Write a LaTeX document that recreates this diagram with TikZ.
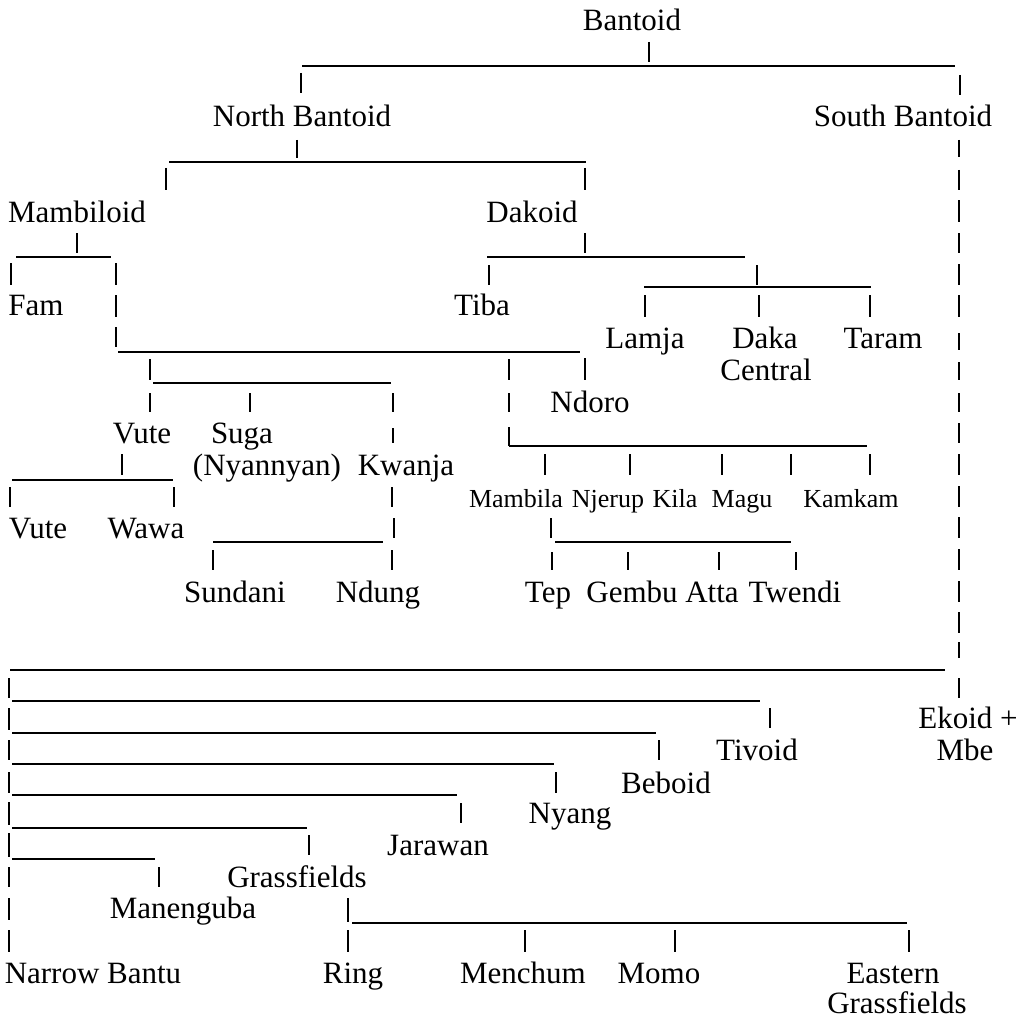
\documentclass[tikz,border=0pt]{standalone}
\usepackage{fontspec}
\setmainfont{Liberation Serif}
\begin{document}
\begin{tikzpicture}[x=1pt,y=-1pt,
  lbl/.style={anchor=base,inner sep=0pt,font=\fontsize{31}{36}\selectfont},
  sml/.style={anchor=base,inner sep=0pt,font=\fontsize{26}{30}\selectfont},
  hl/.style={line width=1.8pt},
  vb/.style={line width=2.4pt}]
\useasboundingbox (0,0) rectangle (1032,1019);

% ---------- labels ----------
\node[lbl] (bantoid) at (632,31) {Bantoid};
\node[lbl] (nbantoid) at (302,127) {North Bantoid};
\node[lbl] (sbantoid) at (903,127) {South Bantoid};
\node[lbl] (mambiloid) at (77,222) {Mambiloid};
\node[lbl] (dakoid) at (532,222) {Dakoid};
\node[lbl] (fam) at (36,315) {Fam};
\node[lbl] (tiba) at (482,315) {Tiba};
\node[lbl] (lamja) at (645,348) {Lamja};
\node[lbl] (daka) at (765,348) {Daka};
\node[lbl] (central) at (766,380) {Central};
\node[lbl] (taram) at (883,348) {Taram};
\node[lbl] (ndoro) at (590,412) {Ndoro};
\node[lbl] (vuteA) at (142,443) {Vute};
\node[lbl] (suga) at (242,443) {Suga};
\node[lbl] (nyannyan) at (267,475) {(Nyannyan)};
\node[lbl] (kwanja) at (406,475) {Kwanja};
\node[lbl] (vuteB) at (38,538) {Vute};
\node[lbl] (wawa) at (146,538) {Wawa};
\node[lbl] (sundani) at (235,602) {Sundani};
\node[lbl] (ndung) at (378,602) {Ndung};
\node[sml] (mambila) at (516,507) {Mambila};
\node[sml] (njerup) at (608,507) {Njerup};
\node[sml] (kila) at (675,507) {Kila};
\node[sml] (magu) at (742,507) {Magu};
\node[sml] (kamkam) at (851,507) {Kamkam};
\node[lbl] (tep) at (548,602) {Tep};
\node[lbl] (gembu) at (632,602) {Gembu};
\node[lbl] (atta) at (712,602) {Atta};
\node[lbl] (twendi) at (795,602) {Twendi};
\node[lbl] (ekoid) at (968,728) {Ekoid +};
\node[lbl] (mbe) at (965,760) {Mbe};
\node[lbl] (tivoid) at (757,760) {Tivoid};
\node[lbl] (beboid) at (666,793) {Beboid};
\node[lbl] (nyang) at (570,823) {Nyang};
\node[lbl] (jarawan) at (438,855) {Jarawan};
\node[lbl] (grassA) at (297,887) {Grassfields};
\node[lbl] (manenguba) at (183,918) {Manenguba};
\node[lbl] (narrow) at (93,983) {Narrow Bantu};
\node[lbl] (ring) at (353,983) {Ring};
\node[lbl] (menchum) at (523,983) {Menchum};
\node[lbl] (momo) at (659,983) {Momo};
\node[lbl] (eastern) at (893,983) {Eastern};
\node[lbl] (grassB) at (897,1013) {Grassfields};

% ---------- horizontal rules ----------
\foreach \y/\a/\b in {66/302/955, 162/169/586, 257/16/111, 257/487/745,
  287/644/871, 352/118/580, 383/153/391, 446/509/867, 480/12/173,
  542/213/383, 542/555/791, 670/10/945, 701/12/760, 733/12/656,
  764/12/554, 795/12/457, 828/12/307, 859/12/155, 923/352/907}
  \draw[hl] (\a,\y) -- (\b,\y);

% ---------- vertical bars ----------
\foreach \x/\a/\b in {649/42/62, 301/73/93, 960/75/95, 297/140/158,
  166/168/190, 585/168/190, 77/233/253, 11/263/285, 116/263/285,
  116/295/317, 116/327/347, 585/233/253, 489/265/285, 757/265/285,
  645/295/317, 759/295/317, 870/295/317,
  150/359/380, 150/393/412, 250/393/412, 393/393/412, 393/428/443,
  509/359/380, 509/393/412, 509/427/446, 585/358/380,
  122/454/475, 10/487/507, 174/487/507,
  392/487/507, 394/518/538, 392/550/570, 213/550/570,
  545/454/475, 630/454/475, 722/454/475, 791/454/475, 870/454/475,
  551/518/538, 552/552/570, 628/552/570, 719/552/570, 796/552/570,
  770/708/728, 659/740/760, 556/772/793, 461/803/823, 309/835/855,
  159/867/887, 348/898/922, 348/930/952, 525/930/952, 675/930/952,
  909/930/952}
  \draw[vb] (\x,\a) -- (\x,\b);

% left trunk of the South Bantoid subtree
\foreach \a/\b in {678/698, 708/730, 740/760, 772/793, 802/825,
  833/857, 867/887, 898/920, 930/952}
  \draw[vb] (9,\a) -- (9,\b);

% South Bantoid trunk
\foreach \a/\b in {140/157, 170/190, 200/222, 233/253, 264/285,
  295/317, 333/350, 362/380, 393/412, 423/443, 454/475, 486/507,
  517/538, 549/570, 581/602, 612/633, 642/658, 678/698}
  \draw[vb] (959,\a) -- (959,\b);
\end{tikzpicture}
\end{document}
